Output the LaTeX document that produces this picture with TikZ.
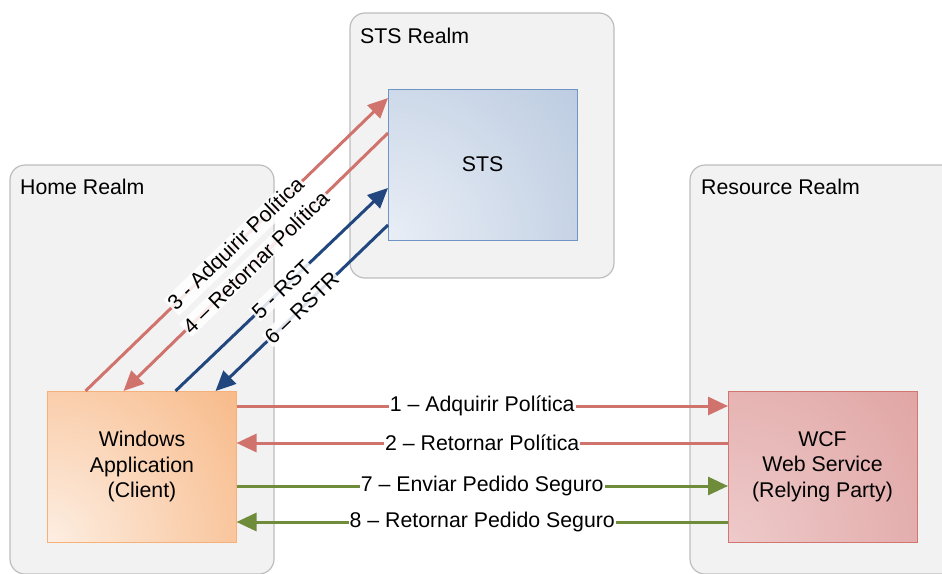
\documentclass[tikz,border=0pt]{standalone}
\usepackage{fontspec}
\setmainfont{Liberation Sans}
\usetikzlibrary{arrows.meta}

\definecolor{realmfill}{HTML}{F2F2F2}
\definecolor{realmline}{HTML}{BDBDBD}
\definecolor{stsbase}{HTML}{B2C4DC}
\definecolor{stslight}{HTML}{E9EEF6}
\definecolor{stsline}{HTML}{7095C4}
\definecolor{clientbase}{HTML}{F7B47F}
\definecolor{clientlight}{HTML}{FDEEE2}
\definecolor{clientline}{HTML}{F6B078}
\definecolor{wcfbase}{HTML}{D8918F}
\definecolor{wcflight}{HTML}{EECACA}
\definecolor{wcfline}{HTML}{D27672}
\definecolor{redflow}{HTML}{D1736D}
\definecolor{blueflow}{HTML}{22477F}
\definecolor{greenflow}{HTML}{6F8C3A}

\newcommand{\bodyfont}{\fontsize{21.3}{25.6}\selectfont}

\tikzset{
  realm/.style={draw=realmline, fill=realmfill, line width=1.2pt,
    rounded corners=15pt, inner sep=0pt, outer sep=0pt},
  realmtitle/.style={anchor=base west, inner sep=0pt, font=\bodyfont},
  box/.style={minimum width=189pt, minimum height=151pt, inner sep=0pt,
    outer sep=0pt, line width=1pt, align=center, font=\bodyfont},
  flow/.style={line width=3pt, -{Triangle[length=20pt,width=18pt]}},
  hlabel/.style={fill=white, text=black, inner xsep=1pt, inner ysep=1pt,
    font=\bodyfont},
  dlabel/.style={hlabel, sloped, fill opacity=0.85, text opacity=1},
}

\begin{document}
\begin{tikzpicture}[x=1pt, y=-1pt]
\useasboundingbox (0,0) rectangle (942,573);
\clip (0,0) rectangle (942,573);

% realms
\node[realm, minimum width=264pt, minimum height=409pt] (homerealm) at (142,369.5) {};
\node[realm, minimum width=264pt, minimum height=265pt] (stsrealm) at (482,145.5) {};
\node[realm, minimum width=266pt, minimum height=409pt] (resrealm) at (823,369.5) {};

\node[realmtitle] (hometitle) at (20,194) {Home Realm};
\node[realmtitle] (ststitle) at (360,43) {STS Realm};
\node[realmtitle] (restitle) at (701,194) {Resource Realm};

% parties
\node[box, draw=stsline, fill=stsbase,
  path picture={\shade[inner color=stslight, outer color=stsbase]
    (path picture bounding box.south west) circle (300pt);}]
  (sts) at (482.5,164.5) {STS};
\node[box, draw=clientline, fill=clientbase,
  path picture={\shade[inner color=clientlight, outer color=clientbase]
    (path picture bounding box.south west) circle (270pt);}]
  (client) at (142,466.5) {Windows\\Application\\(Client)};
\node[box, draw=wcfline, fill=wcfbase,
  path picture={\shade[inner color=wcflight, outer color=wcfbase]
    (path picture bounding box.south west) circle (380pt);}]
  (wcf) at (822.5,466.5) {WCF\\Web Service\\(Relying Party)};

% client <-> STS
\draw[flow, redflow] ([xshift=38pt]client.north west)
  -- node[dlabel] {3 - Adquirir Política} ([yshift=-9pt]sts.north west);
\draw[flow, redflow] ([yshift=-44pt]sts.north west)
  -- node[dlabel] {4 – Retornar Política} ([xshift=76pt]client.north west);
\draw[flow, blueflow] ([xshift=128pt]client.north west)
  -- node[dlabel] {5 - RST} ([yshift=-99pt]sts.north west);
\draw[flow, blueflow] ([yshift=-136pt]sts.north west)
  -- node[dlabel] {6 – RSTR} ([xshift=168pt]client.north west);

% client <-> service
\draw[flow, redflow] ([yshift=-15pt]client.north east)
  -- node[hlabel] {1 – Adquirir Política} ([yshift=-15pt]wcf.north west);
\draw[flow, redflow] ([yshift=-52pt]wcf.north west)
  -- node[hlabel] {2 – Retornar Política} ([yshift=-52pt]client.north east);
\draw[flow, greenflow] ([yshift=-95pt]client.north east)
  -- node[hlabel] {7 – Enviar Pedido Seguro} ([yshift=-95pt]wcf.north west);
\draw[flow, greenflow] ([yshift=-131pt]wcf.north west)
  -- node[hlabel] {8 – Retornar Pedido Seguro} ([yshift=-131pt]client.north east);
\end{tikzpicture}
\end{document}
